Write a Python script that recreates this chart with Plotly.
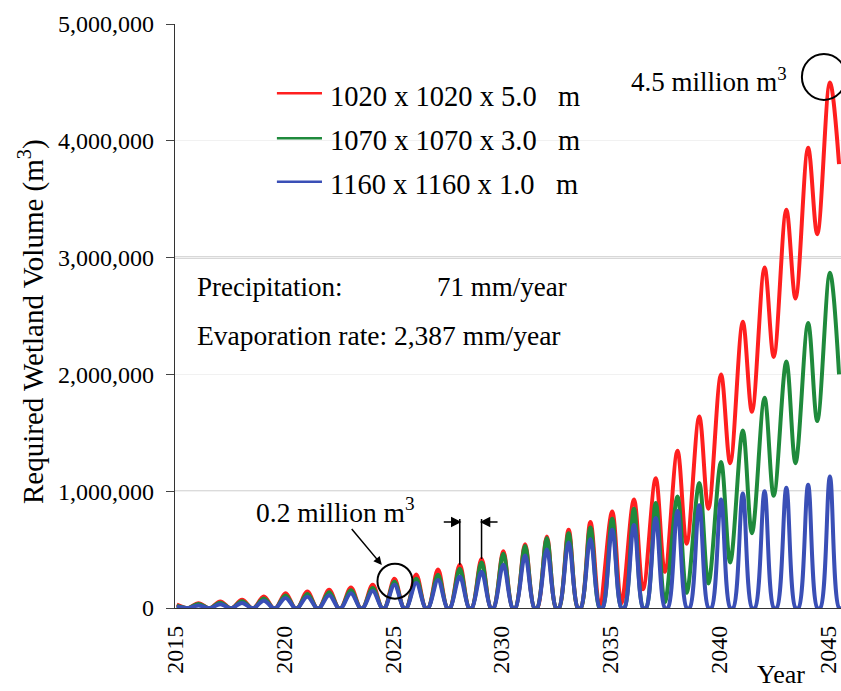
import plotly.graph_objects as go

# ---------------------------------------------------------------- data
years = [2015, 2016, 2017, 2018, 2019, 2020, 2021, 2022, 2023, 2024,
         2025, 2026, 2027, 2028, 2029, 2030, 2031, 2032, 2033, 2034,
         2035, 2036, 2037, 2038, 2039, 2040, 2041, 2042, 2043, 2044, 2045]

# wet-season maximum storage of each year (million m3)
peak_1020 = [0.03, 0.041, 0.056, 0.07, 0.098, 0.127, 0.141, 0.156, 0.176, 0.199,
             0.25, 0.287, 0.33, 0.37, 0.42, 0.485, 0.546, 0.612, 0.67, 0.737,
             0.826, 0.93, 1.11, 1.346, 1.64, 2.0, 2.45, 2.915, 3.41, 3.94, 4.5]
peak_1070 = [0.02, 0.035, 0.045, 0.058, 0.082, 0.108, 0.12, 0.134, 0.152, 0.172,
             0.225, 0.25, 0.285, 0.335, 0.39, 0.465, 0.53, 0.6, 0.64, 0.69,
             0.765, 0.85, 0.9, 0.955, 1.07, 1.25, 1.52, 1.8, 2.11, 2.44, 2.87]
peak_1160 = [0.01, 0.022, 0.032, 0.043, 0.062, 0.085, 0.097, 0.11, 0.126, 0.145,
             0.2, 0.215, 0.24, 0.27, 0.31, 0.37, 0.45, 0.5, 0.56, 0.59,
             0.67, 0.71, 0.77, 0.83, 0.88, 0.93, 0.98, 1.0, 1.03, 1.055, 1.125]

# dry-season minimum storage following each peak (million m3)
low_1020 = [0, 0, 0, 0, 0, 0, 0, 0, 0, 0,
            0, 0, 0, 0, 0, 0, 0, 0, 0, 0.02,
            0.04, 0.16, 0.31, 0.55, 0.85, 1.24, 1.68, 2.15, 2.65, 3.2, 3.8]
low_1070 = [0, 0, 0, 0, 0, 0, 0, 0, 0, 0,
            0, 0, 0, 0, 0, 0, 0, 0, 0, 0,
            0, 0, 0.05, 0.13, 0.21, 0.39, 0.64, 0.96, 1.24, 1.6, 2.0]
low_1160 = [0, 0, 0, 0, 0, 0, 0, 0, 0, 0,
            0, 0, 0, 0, 0, 0, 0, 0, 0, 0,
            0, 0, 0, 0, 0, 0, 0, 0, 0, 0, 0]

series_names = ["1020 x 1020 x 5.0", "1070 x 1070 x 3.0", "1160 x 1160 x 1.0"]
series_colors = ["#ff1f1f", "#1f8a3c", "#3a4fb6"]

x_tick_vals = [2015, 2020, 2025, 2030, 2035, 2040, 2045]
y_tick_vals = [0, 1000000, 2000000, 3000000, 4000000, 5000000]

# seasonal timing within a year (fraction of the year)
PEAK_AT = 0.08      # storage maximum shortly after new year
LOW_AT = 0.5        # dry-season minimum when the wetland keeps water
EMPTY_FROM = 0.5    # wetland runs dry ...
EMPTY_TO = 0.64     # ... until refilling starts

MILLION = 1e6
SERIF = "Liberation Serif, Times New Roman, serif"


def seasonal_path(peaks, lows):
    xs, ys = [], []
    for yr, p, lo in zip(years, peaks, lows):
        xs.append(yr + PEAK_AT)
        ys.append(p * MILLION)
        if lo > 0:
            xs.append(yr + LOW_AT)
            ys.append(lo * MILLION)
        else:
            xs += [yr + EMPTY_FROM, yr + EMPTY_TO]
            ys += [0, 0]
    return xs, ys


fig = go.Figure()
for name, color, peaks, lows in zip(series_names, series_colors,
                                    [peak_1020, peak_1070, peak_1160],
                                    [low_1020, low_1070, low_1160]):
    xs, ys = seasonal_path(peaks, lows)
    fig.add_trace(go.Scatter(
        x=xs, y=ys, mode="lines", name=name + " m",
        line=dict(color=color, width=4, shape="spline", smoothing=1.0),
        showlegend=False, hoverinfo="skip",
    ))

# --------------------------------------------------------------- axes
fig.update_layout(
    width=841, height=691,
    margin=dict(l=175, r=0, t=24, b=83),
    paper_bgcolor="white", plot_bgcolor="white",
    font=dict(family=SERIF, color="black"),
    xaxis=dict(
        range=[2015, 2045.59], tickvals=x_tick_vals, tickangle=-90,
        tickfont=dict(family=SERIF, size=24, color="black"),
        showgrid=False, zeroline=False, showline=True,
        linecolor="#333333", linewidth=1.2, ticks="",
        ticklabelstandoff=7,
    ),
    yaxis=dict(
        range=[0, 5000000], tickvals=y_tick_vals, tickformat=",",
        tickfont=dict(family=SERIF, size=24, color="black"),
        showgrid=True, gridcolor="#f1f1f1", zeroline=False,
        showline=True, linecolor="#333333", linewidth=1.2,
        ticks="outside", ticklen=8, tickcolor="#444444",
        ticklabelstandoff=7,
    ),
)

# stronger reference lines at 1 and 3 million
fig.add_shape(type="line", xref="paper", yref="y", x0=0, x1=1,
              y0=1000000, y1=1000000, layer="below",
              line=dict(color="#b8b8b8", width=1.5))
fig.add_shape(type="line", xref="paper", yref="y", x0=0, x1=1,
              y0=3000000, y1=3000000, layer="below",
              line=dict(color="#666666", width=1.5))

# --------------------------------------------------------------- key
key_y_line = [0.8813, 0.8043, 0.7300]
key_y_text = [0.8767, 0.7997, 0.7260]
for name, color, yl, yt in zip(series_names, series_colors, key_y_line, key_y_text):
    fig.add_shape(type="line", xref="paper", yref="paper",
                  x0=0.153, x1=0.2207, y0=yl, y1=yl,
                  line=dict(color=color, width=2.5))
    fig.add_annotation(xref="paper", yref="paper", x=0.229, y=yt,
                       xanchor="left", yanchor="middle", showarrow=False,
                       text=name + "\u00a0\u00a0\u00a0m",
                       font=dict(family=SERIF, size=28.5, color="black"))

# climate inputs
fig.add_annotation(xref="paper", yref="paper", x=0.030, y=0.5497,
                   xanchor="left", yanchor="middle", showarrow=False,
                   text="Precipitation:", font=dict(family=SERIF, size=27))
fig.add_annotation(xref="paper", yref="paper", x=0.390, y=0.5497,
                   xanchor="left", yanchor="middle", showarrow=False,
                   text="71 mm/year", font=dict(family=SERIF, size=27))
fig.add_annotation(xref="paper", yref="paper", x=0.030, y=0.4658,
                   xanchor="left", yanchor="middle", showarrow=False,
                   text="Evaporation rate: 2,387 mm/year",
                   font=dict(family=SERIF, size=27.5))

# axis titles
fig.add_annotation(xref="paper", yref="paper", x=-0.2162, y=0.4897,
                   xanchor="center", yanchor="middle", showarrow=False,
                   textangle=-90, text="Required Wetland Volume (m<sup>3</sup>)",
                   font=dict(family=SERIF, size=29))
fig.add_annotation(xref="paper", yref="paper", x=0.91, y=-0.1147,
                   xanchor="center", yanchor="middle", showarrow=False,
                   text="Year", font=dict(family=SERIF, size=26))

# ---------------------------------------------------- highlighted peaks
i_small = years.index(2025)
i_big = years.index(2045)

fig.add_shape(type="circle", xref="x", yref="y",
              xsizemode="pixel", ysizemode="pixel",
              xanchor=years[i_small] + PEAK_AT, yanchor=peak_1160[i_small] * MILLION,
              x0=-17, x1=18, y0=-14, y1=21,
              line=dict(color="black", width=2))
# label with its arrow pointing at the circled 2025 peak
fig.add_annotation(xref="x", yref="y", x=2024.5, y=368000,
                   ax=-46, ay=-55, text="0.2 million m<sup>3</sup>",
                   font=dict(family=SERIF, size=27.5),
                   showarrow=True, arrowhead=2, arrowsize=1.1,
                   arrowwidth=1.5, arrowcolor="black")

fig.add_shape(type="circle", xref="x", yref="y",
              xsizemode="pixel", ysizemode="pixel",
              xanchor=years[i_big] + PEAK_AT, yanchor=peak_1020[i_big] * MILLION,
              x0=-28, x1=16, y0=-17.5, y1=28.5,
              line=dict(color="black", width=2))
fig.add_annotation(xref="paper", yref="paper", x=0.682, y=0.9041,
                   xanchor="left", yanchor="middle", showarrow=False,
                   text="4.5 million m<sup>3</sup>",
                   font=dict(family=SERIF, size=27))

# one-year period marker between consecutive peaks
marker_top = 762000
arrow_level = 737000
for yr, side in [(2028, -1), (2029, 1)]:
    i = years.index(yr)
    fig.add_shape(type="line", xref="x", yref="y",
                  x0=yr + PEAK_AT, x1=yr + PEAK_AT,
                  y0=peak_1020[i] * MILLION, y1=marker_top,
                  line=dict(color="black", width=1.5))
    # arrow coming from outside toward the marker line
    s = side
    fig.add_shape(type="path", xref="x", yref="y",
                  xsizemode="pixel", ysizemode="pixel",
                  xanchor=yr + PEAK_AT, yanchor=arrow_level,
                  path=f"M{16 * s},0 L{7 * s},0 M{8 * s},4 L0,0 L{8 * s},-4 Z",
                  fillcolor="black", line=dict(color="black", width=1.5))

fig.write_html("out.html")
